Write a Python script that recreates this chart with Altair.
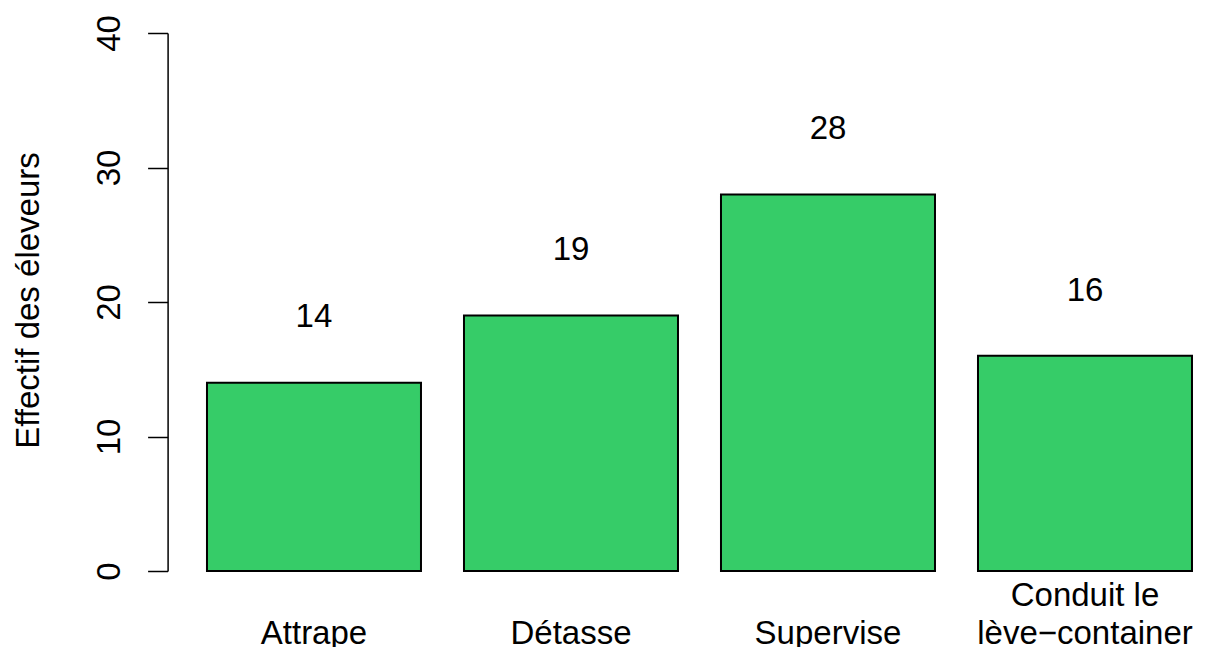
import altair as alt
import pandas as pd

categories = ["Attrape", "Détasse", "Supervise", "Conduit le\nlève−container"]
values = [14, 19, 28, 16]
y_ticks = [0, 10, 20, 30, 40]

df = pd.DataFrame({"cat": categories, "val": values})

FONT = "Liberation Sans"
FS = 33

x_enc = alt.X(
    "cat:N",
    sort=None,
    scale=alt.Scale(paddingInner=43 / 257, paddingOuter=0.0922, align=0.831),
    axis=alt.Axis(
        title=None,
        domain=False,
        ticks=False,
        tickSize=0,
        labelAngle=0,
        labelFont=FONT,
        labelFontSize=FS,
        labelColor="black",
        labelBaseline="alphabetic",
        labelLineHeight=38,
        labelPadding=34,
        labelLimit=1000,
        labelOverlap=False,
        labelFlush=False,
        labelExpr="indexof(datum.label, '\\n') >= 0 ? split(datum.label, '\\n') : ['', datum.label]",
    ),
)

y_scale = alt.Scale(domain=[0, 40], nice=False, zero=True)

bars = alt.Chart(df).mark_bar(
    color="#36CC68", stroke="black", strokeWidth=2
).encode(
    x=x_enc,
    y=alt.Y(
        "val:Q",
        scale=y_scale,
        axis=alt.Axis(
            values=y_ticks,
            grid=False,
            domainColor="black",
            domainWidth=1.5,
            tickColor="black",
            tickWidth=1.5,
            tickSize=20,
            labelAngle=270,
            labelAlign="center",
            labelBaseline="alphabetic",
            labelPadding=28,
            labelFont=FONT,
            labelFontSize=FS,
            labelColor="black",
            title="Effectif des éleveurs",
            titleFont=FONT,
            titleFontSize=FS,
            titleFontWeight="normal",
            titleColor="black",
            titleAngle=270,
            titleAlign="center",
            titleBaseline="alphabetic",
            titleX=-129.6,
            titleY=267,
        ),
    ),
)

labels = alt.Chart(df).transform_calculate(
    ypos="datum.val + 5"
).mark_text(
    font=FONT, fontSize=FS, color="black", baseline="middle", dy=2
).encode(
    x=alt.X("cat:N", sort=None),
    y=alt.Y("ypos:Q", scale=y_scale),
    text=alt.Text("val:Q"),
)

chart = alt.layer(bars, labels).properties(
    width=1032.4,
    height=538,
    autosize=alt.AutoSizeParams(type="none"),
    padding={"left": 159.6, "top": 25, "right": 0, "bottom": 90},
).configure_view(stroke=None)

chart.save("out.html", embed_options={"renderer": "svg", "actions": False})
